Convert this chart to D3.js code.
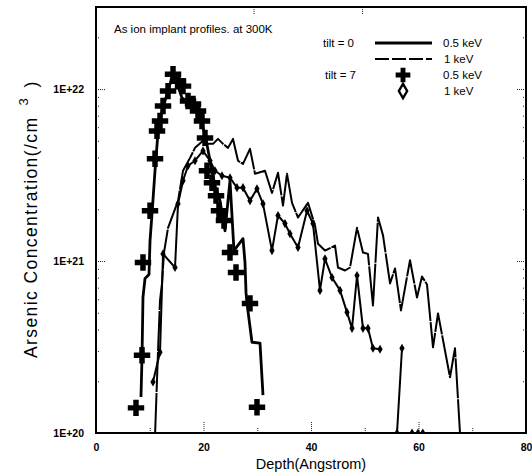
<!DOCTYPE html>
<html><head><meta charset="utf-8">
<script src="https://cdn.jsdelivr.net/npm/d3@7"></script>
<style>body{margin:0;background:#fff}svg{display:block}text{font-family:"Liberation Sans",Arial,sans-serif;fill:#000}</style>
</head><body><svg id="c" width="532" height="476"></svg>
<script>
// ---- data (depth in Angstrom, concentration in /cm^3) ----
const xTickValues = [0, 20, 40, 60, 80];
const xMinorTicks = [10, 30, 50, 70];
const topTicks = [29.3, 49.5];
const yTickValues = [1e20, 1e21, 1e22];
const yTickLabels = ["1E+20", "1E+21", "1E+22"];

// tilt = 0, 0.5 keV (solid)
const solidDepth = [8.37,8.56,8.74,9.12,9.86,10.05,10.42,10.98,11.53,12.28,13.21,14.33,15.26,16.0,17.49,18.79,19.35,20.28,21.21,22.14,23.07,24.0,24.93,25.67,27.35,27.72,27.91,28.09,29.02,30.51,31.07];
const solidConc = [1.62e20,2.76e20,6.14e20,7.92e20,8.35e20,1.31e21,1.88e21,3.35e21,5.56e21,7.45e21,9.35e21,1.22e22,1.04e22,8.87e21,8.29e21,7.76e21,6.70e21,5.48e21,3.83e21,2.74e21,2.24e21,1.50e21,2.93e21,1.15e21,1.35e21,9.8e20,6.57e20,5.67e20,3.37e20,3.33e20,1.66e20];

// tilt = 0, 1 keV (dashed)
const dashDepth = [11.0,11.53,11.91,12.28,12.65,13.40,15.26,16.19,17.49,18.42,19.91,20.84,21.77,22.70,23.63,24.56,25.49,26.42,27.35,28.65,29.58,31.44,32.74,33.86,34.79,35.53,36.47,37.58,39.44,40.74,41.30,42.60,44.47,45.02,46.33,47.26,48.56,49.67,50.60,51.53,52.47,53.40,54.70,55.63,56.74,58.42,59.72,60.65,61.58,62.70,63.63,65.86,66.79,67.72];
const dashConc = [1.0e20,2.95e20,5.90e20,7.41e20,1.12e21,1.56e21,2.24e21,3.35e21,3.98e21,4.55e21,5.0e21,4.80e21,4.80e21,5.13e21,4.80e21,4.55e21,5.13e21,3.83e21,3.67e21,4.49e21,3.22e21,3.35e21,2.49e21,3.26e21,2.10e21,3.22e21,2.18e21,1.79e21,2.18e21,1.61e21,1.26e21,1.15e21,1.23e21,9.17e20,8.81e20,9.17e20,1.56e21,1.12e21,1.10e21,5.52e20,1.79e21,1.41e21,7.41e20,9.05e20,5.16e20,1.01e21,6.14e20,8.13e20,7.31e20,3.15e20,4.96e20,2.11e20,3.11e20,1.0e20];

// tilt = 7, 0.5 keV (plus markers)
const plusDepth = [7.44,8.56,8.74,10.05,10.98,11.35,11.91,12.47,13.4,14.33,15.26,16.19,17.12,18.05,18.98,19.72,20.28,20.65,21.58,22.33,22.88,23.81,24.93,26.05,28.65,29.95];
const plusConc = [1.40e20,2.83e20,9.8e20,1.96e21,3.93e21,5.71e21,6.52e21,7.97e21,9.73e21,1.22e22,1.11e22,1.04e22,8.52e21,8.19e21,7.45e21,6.52e21,5.20e21,3.35e21,2.85e21,2.40e21,1.96e21,1.72e21,1.12e21,8.58e20,5.67e20,1.41e20];

// tilt = 7, 1 keV (diamond markers); null = no value (gap)
const diaDepth = [10.60,11.91,12.47,14.70,15.26,16.19,17.12,18.42,19.91,21.21,22.14,23.44,24.93,26.23,27.35,28.65,29.95,31.07,32.74,33.86,35.16,36.09,37.58,39.26,40.37,41.67,42.60,43.91,45.40,46.70,47.63,48.56,49.67,50.60,51.53,52.84,54.5,56.0,56.93,57.8,58.8,59.9,60.8];
const diaConc = [1.98e20,2.95e20,1.10e21,9.17e20,2.15e21,2.93e21,3.58e21,3.83e21,4.37e21,3.83e21,3.35e21,3.13e21,3.05e21,2.67e21,2.67e21,2.24e21,2.63e21,2.15e21,1.15e21,1.84e21,1.65e21,1.44e21,1.20e21,1.96e21,1.65e21,6.75e20,1.03e21,8.02e20,6.75e20,5.03e20,4.06e20,8.24e20,4.06e20,4.06e20,3.11e20,3.07e20,null,1.0e20,3.11e20,null,1.0e20,1.0e20,1.0e20];

// ---- chart ----
const svg = d3.select('#c');
const L = 96, R = 526, T = 7, B = 433;
const x = d3.scaleLinear().domain([0, 80]).range([L, R]);
const y = d3.scaleLog().domain([1e20, 3e22]).range([B, T]);

svg.append('defs').append('clipPath').attr('id', 'clip')
  .append('rect').attr('x', L).attr('y', T - 1).attr('width', R - L).attr('height', B - T + 2);

const zip = (a, b) => a.map((v, i) => ({x: v, y: b[i]}));
const line = d3.line().defined(d => d.y != null).x(d => x(d.x)).y(d => y(d.y));

const g = svg.append('g').attr('clip-path', 'url(#clip)');
g.append('path').datum(zip(dashDepth, dashConc)).attr('d', line)
  .attr('fill', 'none').attr('stroke', '#000').attr('stroke-width', 2).attr('stroke-dasharray', '40,1').attr('stroke-linejoin', 'round');
g.append('path').datum(zip(diaDepth, diaConc)).attr('d', line)
  .attr('fill', 'none').attr('stroke', '#000').attr('stroke-width', 2).attr('stroke-linejoin', 'round');
g.append('path').datum(zip(solidDepth, solidConc)).attr('d', line)
  .attr('fill', 'none').attr('stroke', '#000').attr('stroke-width', 2.8).attr('stroke-linejoin', 'round');

const plusSym = d3.symbol(d3.symbolCross, 150);
g.selectAll('.plus').data(zip(plusDepth, plusConc)).join('path')
  .attr('d', plusSym).attr('transform', d => `translate(${x(d.x)},${y(d.y)})`).attr('fill', '#000');
const diaSym = d3.symbol(d3.symbolDiamond, 24);
g.selectAll('.dia').data(zip(diaDepth, diaConc).filter(d => d.y != null)).join('path')
  .attr('d', diaSym).attr('transform', d => `translate(${x(d.x)},${y(d.y)})`).attr('fill', '#000');

// axes
const fmtY = d => yTickLabels[yTickValues.indexOf(d)];
svg.append('g').attr('transform', `translate(0,${B})`)
  .call(d3.axisBottom(x).tickValues(xTickValues).tickSizeInner(-12).tickSizeOuter(0).tickPadding(11).tickFormat(d3.format('d')));
svg.append('g').attr('transform', `translate(0,${B})`)
  .call(d3.axisBottom(x).tickValues(xMinorTicks).tickSizeInner(-6).tickSizeOuter(0).tickFormat(''));
svg.append('g').attr('transform', `translate(0,${T})`)
  .call(d3.axisTop(x).tickValues(topTicks).tickSizeInner(-7).tickSizeOuter(0).tickFormat(''));
svg.append('g').attr('transform', `translate(${L},0)`)
  .call(d3.axisLeft(y).tickValues(yTickValues).tickSizeInner(-9).tickSizeOuter(0).tickPadding(12).tickFormat(fmtY));
const minorY = [];
[1e20, 1e21, 1e22].forEach(dec => { for (let k = 2; k <= 9; k++) { const v = k * dec; if (v <= 3e22) minorY.push(v); } });
svg.append('g').attr('transform', `translate(${L},0)`)
  .call(d3.axisLeft(y).tickValues(minorY).tickSizeInner(-4).tickSizeOuter(0).tickFormat(''));
svg.append('g').attr('transform', `translate(${R},0)`)
  .call(d3.axisRight(y).tickValues(yTickValues).tickSizeInner(-9).tickSizeOuter(0).tickFormat(''));
svg.append('g').attr('transform', `translate(${R},0)`)
  .call(d3.axisRight(y).tickValues(minorY).tickSizeInner(-4).tickSizeOuter(0).tickFormat(''));

svg.selectAll('.domain').remove();
svg.selectAll('.tick line').attr('stroke', '#222').attr('stroke-width', 1).attr('stroke-dasharray', '1,1');
svg.selectAll('.tick text').attr('font-size', 10.5).attr('font-weight', 'bold').attr('font-family', '"Liberation Sans",Arial,sans-serif');

// frame
svg.append('rect').attr('x', L).attr('y', T).attr('width', R - L).attr('height', B - T)
  .attr('fill', 'none').attr('stroke', '#000').attr('stroke-width', 2);

// titles
svg.append('text').attr('x', 114).attr('y', 33).attr('font-size', 11.5).text('As ion implant profiles. at 300K');
svg.append('text').attr('x', 311).attr('y', 469).attr('text-anchor', 'middle').attr('font-size', 14.5).text('Depth(Angstrom)');
const yt = svg.append('text').attr('transform', 'translate(37,358) rotate(-90)').attr('font-size', 17.5);
yt.append('tspan').attr('textLength', 240).attr('lengthAdjust', 'spacing').text('Arsenic Concentration(/cm');
yt.append('tspan').attr('dx', 11).attr('dy', -9).attr('font-size', 13).text('3');
yt.append('tspan').attr('dx', 11).attr('dy', 9).text(')');

// legend
const lg = svg.append('g').attr('font-size', 11.5);
lg.append('text').attr('x', 323).attr('y', 47).text('tilt = 0');
lg.append('line').attr('x1', 375).attr('x2', 432).attr('y1', 43).attr('y2', 43).attr('stroke', '#000').attr('stroke-width', 2.8);
lg.append('text').attr('x', 443).attr('y', 47).text('0.5 keV');
lg.append('line').attr('x1', 375).attr('x2', 432).attr('y1', 59).attr('y2', 59).attr('stroke', '#000').attr('stroke-width', 1.8).attr('stroke-dasharray', '14,3');
lg.append('text').attr('x', 444).attr('y', 63).text('1 keV');
lg.append('text').attr('x', 325).attr('y', 79).text('tilt = 7');
lg.append('path').attr('d', d3.symbol(d3.symbolCross, 120)()).attr('transform', 'translate(403,75)').attr('fill', '#000');
lg.append('text').attr('x', 443).attr('y', 79).text('0.5 keV');
lg.append('path').attr('d', d3.symbol(d3.symbolDiamond, 60)()).attr('transform', 'translate(403,91)').attr('fill', '#fff').attr('stroke', '#000').attr('stroke-width', 2.4);
lg.append('text').attr('x', 444).attr('y', 95).text('1 keV');
</script></body></html>
